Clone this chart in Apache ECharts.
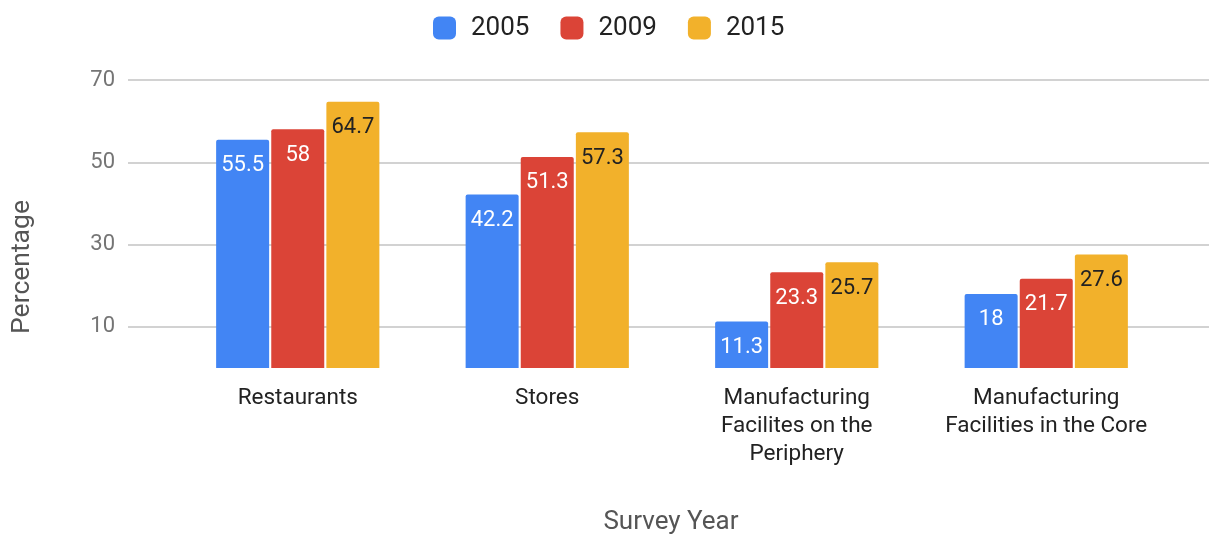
<!DOCTYPE html>
<html>
<head>
<meta charset="utf-8">
<title>Survey Year</title>
<script src="https://cdn.jsdelivr.net/npm/echarts@6/dist/echarts.min.js"></script>
<style>
  html, body { margin: 0; padding: 0; background: #ffffff; }
  #chart { width: 1209px; height: 536px; }
</style>
</head>
<body>
<div id="chart"></div>
<script>
// Categories and yearly percentages
const categories = [
  'Restaurants',
  'Stores',
  'Manufacturing\nFacilites on the\nPeriphery',
  'Manufacturing\nFacilities in the Core'
];
const years = ['2005', '2009', '2015'];
const values2005 = [55.5, 42.2, 11.3, 18];
const values2009 = [58, 51.3, 23.3, 21.7];
const values2015 = [64.7, 57.3, 25.7, 27.6];
const yTickLabels = [10, 30, 50, 70];

const colors = ['#4285F4', '#DB4437', '#F2B12B'];
const labelColors = ['#ffffff', '#ffffff', '#222222'];
const seriesValues = [values2005, values2009, values2015];

const FONT = 'Roboto, "Noto Sans", sans-serif';

const chart = echarts.init(document.getElementById('chart'), null, { renderer: 'canvas' });

const barSeries = years.map((y, i) => ({
  name: y,
  type: 'bar',
  xAxisIndex: 0,
  yAxisIndex: 0,
  data: seriesValues[i],
  barWidth: 53,
  barGap: '4%',
  itemStyle: { color: colors[i], borderRadius: [2, 2, 0, 0] },
  label: {
    show: true,
    position: 'insideTop',
    distance: 15,
    color: labelColors[i],
    fontFamily: FONT,
    fontSize: 22,
    lineHeight: 22
  }
}));

chart.setOption({
  animation: false,
  color: colors,
  textStyle: { fontFamily: FONT },
  legend: {
    data: years,
    top: 10,
    left: 428,
    itemWidth: 23,
    itemHeight: 23,
    itemGap: 31,
    icon: 'roundRect',
    textStyle: { fontFamily: FONT, fontSize: 26, color: '#222222', padding: [0, 0, 0, 10] }
  },
  grid: [
    // bars
    { left: 173, right: 38, top: 80, bottom: 168, containLabel: false, outerBoundsMode: 'none' },
    // full-width gridlines and value labels
    { left: 128, right: 0, top: 80, bottom: 168, containLabel: false, outerBoundsMode: 'none' }
  ],
  xAxis: [
    {
      type: 'category',
      gridIndex: 0,
      data: categories,
      axisLine: { show: false },
      axisTick: { show: false },
      axisLabel: {
        margin: 16,
        color: '#222222',
        fontFamily: FONT,
        fontSize: 22.5,
        lineHeight: 28,
        interval: 0
      }
    },
    { type: 'value', gridIndex: 1, show: false, min: 0, max: 1 }
  ],
  yAxis: [
    { type: 'value', gridIndex: 0, min: 0, max: 70, show: false },
    {
      type: 'value',
      gridIndex: 1,
      min: 0,
      max: 70,
      interval: 10,
      axisLine: { show: false },
      axisTick: { show: false },
      axisLabel: {
        margin: 13,
        color: '#757575',
        fontFamily: FONT,
        fontSize: 22,
        formatter: v => (yTickLabels.includes(v) ? String(v) : '')
      },
      splitLine: {
        show: true,
        lineStyle: { color: ['transparent', '#d2d2d2'], width: 2 }
      }
    }
  ],
  graphic: [
    {
      // y-axis title
      type: 'text',
      x: 22,
      y: 267,
      rotation: Math.PI / 2,
      style: {
        text: 'Percentage',
        fill: '#555555',
        font: '26.5px ' + FONT,
        textAlign: 'center',
        textVerticalAlign: 'middle'
      }
    },
    {
      // x-axis title
      type: 'text',
      x: 671,
      y: 522,
      style: {
        text: 'Survey Year',
        fill: '#555555',
        font: '26px ' + FONT,
        textAlign: 'center',
        textVerticalAlign: 'middle'
      }
    }
  ],
  series: barSeries
});
</script>
</body>
</html>
